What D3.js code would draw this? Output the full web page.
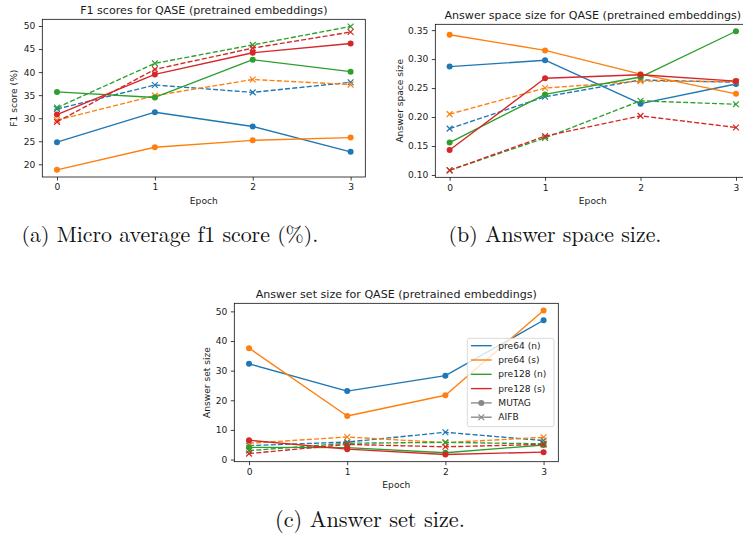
<!DOCTYPE html>
<html><head><meta charset="utf-8">
<script src="https://cdn.jsdelivr.net/npm/d3@7"></script>
<style>body{margin:0;background:#fff} svg{display:block}</style>
</head><body>
<svg id="chart" width="743" height="534"></svg>
<script>
// ---------- data ----------
const epochs = [0, 1, 2, 3];
const seriesNames = ["pre64 (n)", "pre64 (s)", "pre128 (n)", "pre128 (s)"];
const seriesColors = ["#1f77b4", "#ff7f0e", "#2ca02c", "#d62728"];
const datasetNames = ["MUTAG", "AIFB"];

// (a) F1 score (%)
const f1MUTAG = [
  [24.8, 31.3, 28.2, 22.7],
  [18.8, 23.7, 25.2, 25.8],
  [35.7, 34.5, 42.7, 40.1],
  [30.8, 39.5, 44.2, 46.2]
];
const f1AIFB = [
  [32.0, 37.2, 35.6, 37.8],
  [29.6, 34.9, 38.4, 37.3],
  [32.3, 41.9, 45.9, 49.9],
  [29.2, 40.6, 45.2, 48.7]
];
const f1Ticks = [20, 25, 30, 35, 40, 45, 50];

// (b) answer space size
const spaceMUTAG = [
  [0.287, 0.298, 0.223, 0.257],
  [0.342, 0.315, 0.274, 0.240],
  [0.156, 0.239, 0.269, 0.348],
  [0.143, 0.267, 0.273, 0.262]
];
const spaceAIFB = [
  [0.180, 0.235, 0.264, 0.260],
  [0.205, 0.250, 0.262, 0.261],
  [0.108, 0.164, 0.228, 0.222],
  [0.108, 0.167, 0.202, 0.182]
];
const spaceTicks = [0.10, 0.15, 0.20, 0.25, 0.30, 0.35];

// (c) answer set size
const setMUTAG = [
  [32.3, 23.1, 28.3, 47.0],
  [37.6, 14.7, 21.7, 50.3],
  [4.1, 4.0, 2.3, 4.9],
  [6.5, 3.5, 1.7, 2.5]
];
const setAIFB = [
  [4.7, 5.9, 9.2, 6.4],
  [5.5, 7.6, 5.7, 7.5],
  [3.0, 5.5, 5.8, 5.3],
  [2.0, 5.1, 4.3, 5.1]
];
const setTicks = [0, 10, 20, 30, 40, 50];

const titles = [
  "F1 scores for QASE (pretrained embeddings)",
  "Answer space size for QASE (pretrained embeddings)",
  "Answer set size for QASE (pretrained embeddings)"
];
const yLabels = ["F1 score (%)", "Answer space size", "Answer set size"];
const xLabel = "Epoch";
const captions = ["(a) Micro average f1 score (%).", "(b) Answer space size.", "(c) Answer set size."];

// ---------- drawing ----------
const svg = d3.select("#chart");
const FONT = "'DejaVu Sans', sans-serif";
const TXT = "#1a1a1a";
const LW = 1.36, MR = 3.0, TICK = 3.5;

function drawPanel(cfg) {
  const { box, mutag, aifb, ticks, fmt, title, ylabel, id } = cfg;
  const g = svg.append("g");
  const x = d3.scaleLinear().domain([-0.15, 3.15]).range([box.l, box.r]);
  const all = mutag.flat().concat(aifb.flat());
  const [mn, mx] = d3.extent(all);
  const pad = (mx - mn) * 0.05;
  const y = d3.scaleLinear().domain([mn - pad, mx + pad]).range([box.b, box.t]);

  svg.append("clipPath").attr("id", "clip" + id)
    .append("rect").attr("x", box.l).attr("y", box.t)
    .attr("width", box.r - box.l).attr("height", box.b - box.t);

  const plot = g.append("g").attr("clip-path", `url(#clip${id})`);
  const line = d3.line().x((d, i) => x(epochs[i])).y(d => y(d));

  seriesColors.forEach((col, s) => {
    // MUTAG: solid with circles
    plot.append("path").datum(mutag[s]).attr("d", line)
      .attr("fill", "none").attr("stroke", col).attr("stroke-width", LW)
      .attr("stroke-linejoin", "round");
    plot.selectAll(null).data(mutag[s]).join("circle")
      .attr("cx", (d, i) => x(epochs[i])).attr("cy", d => y(d))
      .attr("r", MR).attr("fill", col);
    // AIFB: dashed with x markers
    plot.append("path").datum(aifb[s]).attr("d", line)
      .attr("fill", "none").attr("stroke", col).attr("stroke-width", LW)
      .attr("stroke-dasharray", "5.05,2.18");
    plot.selectAll(null).data(aifb[s]).join("path")
      .attr("d", (d, i) => {
        const cx = x(epochs[i]), cy = y(d), r = 2.9;
        return `M${cx - r},${cy - r}L${cx + r},${cy + r}M${cx - r},${cy + r}L${cx + r},${cy - r}`;
      })
      .attr("stroke", col).attr("stroke-width", 1.2).attr("fill", "none");
  });

  // axes
  const xa = g.append("g").attr("transform", `translate(0,${box.b})`)
    .call(d3.axisBottom(x).tickValues(epochs).tickFormat(d3.format("d"))
      .tickSize(TICK).tickPadding(3.5));
  const ya = g.append("g").attr("transform", `translate(${box.l},0)`)
    .call(d3.axisLeft(y).tickValues(ticks).tickFormat(fmt)
      .tickSize(TICK).tickPadding(3.5));
  [xa, ya].forEach(a => {
    a.select(".domain").remove();
    a.selectAll("line").attr("stroke", "#000").attr("stroke-width", 0.75);
    a.selectAll("text").attr("font-family", FONT).attr("font-size", 9.1).attr("fill", TXT);
  });

  // spines
  g.append("rect").attr("x", box.l).attr("y", box.t)
    .attr("width", box.r - box.l).attr("height", box.b - box.t)
    .attr("fill", "none").attr("stroke", "#000").attr("stroke-width", 0.75);

  // title
  g.append("text").attr("x", (box.l + box.r) / 2).attr("y", box.t - 5.5)
    .attr("text-anchor", "middle").attr("font-family", FONT).attr("font-size", 11.1)
    .attr("fill", TXT).text(title);
  // x label
  g.append("text").attr("x", (box.l + box.r) / 2).attr("y", box.b + 26.5)
    .attr("text-anchor", "middle").attr("font-family", FONT).attr("font-size", 9.1)
    .attr("fill", TXT).text(xLabel);
  // y label
  g.append("text")
    .attr("transform", `translate(${cfg.ylx},${(box.t + box.b) / 2}) rotate(-90)`)
    .attr("text-anchor", "middle").attr("font-family", FONT).attr("font-size", 9.1)
    .attr("fill", TXT).text(ylabel);
  return { g, x, y };
}

drawPanel({ id: "a", box: { l: 42.3, r: 365.3, t: 19.3, b: 177 }, mutag: f1MUTAG, aifb: f1AIFB,
  ticks: f1Ticks, fmt: d3.format("d"), title: titles[0], ylabel: yLabels[0], ylx: 16.8 });
drawPanel({ id: "b", box: { l: 435.3, r: 750.3, t: 24.3, b: 177.3 }, mutag: spaceMUTAG, aifb: spaceAIFB,
  ticks: spaceTicks, fmt: d3.format(".2f"), title: titles[1], ylabel: yLabels[1], ylx: 402.7 });
const pc = drawPanel({ id: "c", box: { l: 234.3, r: 558.3, t: 303.3, b: 461.7 }, mutag: setMUTAG, aifb: setAIFB,
  ticks: setTicks, fmt: d3.format("d"), title: titles[2], ylabel: yLabels[2], ylx: 210 });

// legend in panel (c)
const lg = pc.g.append("g");
const lx = 467.3, ly = 338.3, lw = 86.7, lh = 88.4;
lg.append("rect").attr("x", lx).attr("y", ly).attr("width", lw).attr("height", lh)
  .attr("rx", 2).attr("fill", "#fff").attr("fill-opacity", 0.8)
  .attr("stroke", "#cccccc").attr("stroke-width", 0.75);
const entries = seriesNames.map((n, i) => ({ label: n, color: seriesColors[i], marker: null }))
  .concat([{ label: datasetNames[0], color: "#888888", marker: "o" },
           { label: datasetNames[1], color: "#888888", marker: "x" }]);
entries.forEach((e, i) => {
  const cy = 345.7 + i * 14.3;
  lg.append("line").attr("x1", 471).attr("x2", 491.7).attr("y1", cy).attr("y2", cy)
    .attr("stroke", e.color).attr("stroke-width", LW);
  if (e.marker === "o") {
    lg.append("circle").attr("cx", 481.3).attr("cy", cy).attr("r", MR).attr("fill", e.color);
  } else if (e.marker === "x") {
    const r = 2.9, cx = 481.3;
    lg.append("path").attr("d", `M${cx - r},${cy - r}L${cx + r},${cy + r}M${cx - r},${cy + r}L${cx + r},${cy - r}`)
      .attr("stroke", e.color).attr("stroke-width", 1.2);
  }
  lg.append("text").attr("x", 498.3).attr("y", cy).attr("dy", "0.35em")
    .attr("font-family", FONT).attr("font-size", 9.1).attr("fill", TXT).text(e.label);
});

// captions (LaTeX-style serif)
const capCfg = [
  { x: 170, y: 242, w: 297 },
  { x: 555, y: 242, w: 213 },
  { x: 370, y: 527, w: 190 }
];
captions.forEach((c, i) => {
  const t = svg.append("text").attr("x", capCfg[i].x).attr("y", capCfg[i].y)
    .attr("text-anchor", "middle")
    .attr("font-family", "'Latin Modern Roman','CMU Serif','Liberation Serif',serif")
    .attr("font-size", 20).attr("fill", "#111").text(c);
  const len = t.node().getComputedTextLength();
  t.attr("font-size", 20 * capCfg[i].w / len);
});
</script>
</body></html>
